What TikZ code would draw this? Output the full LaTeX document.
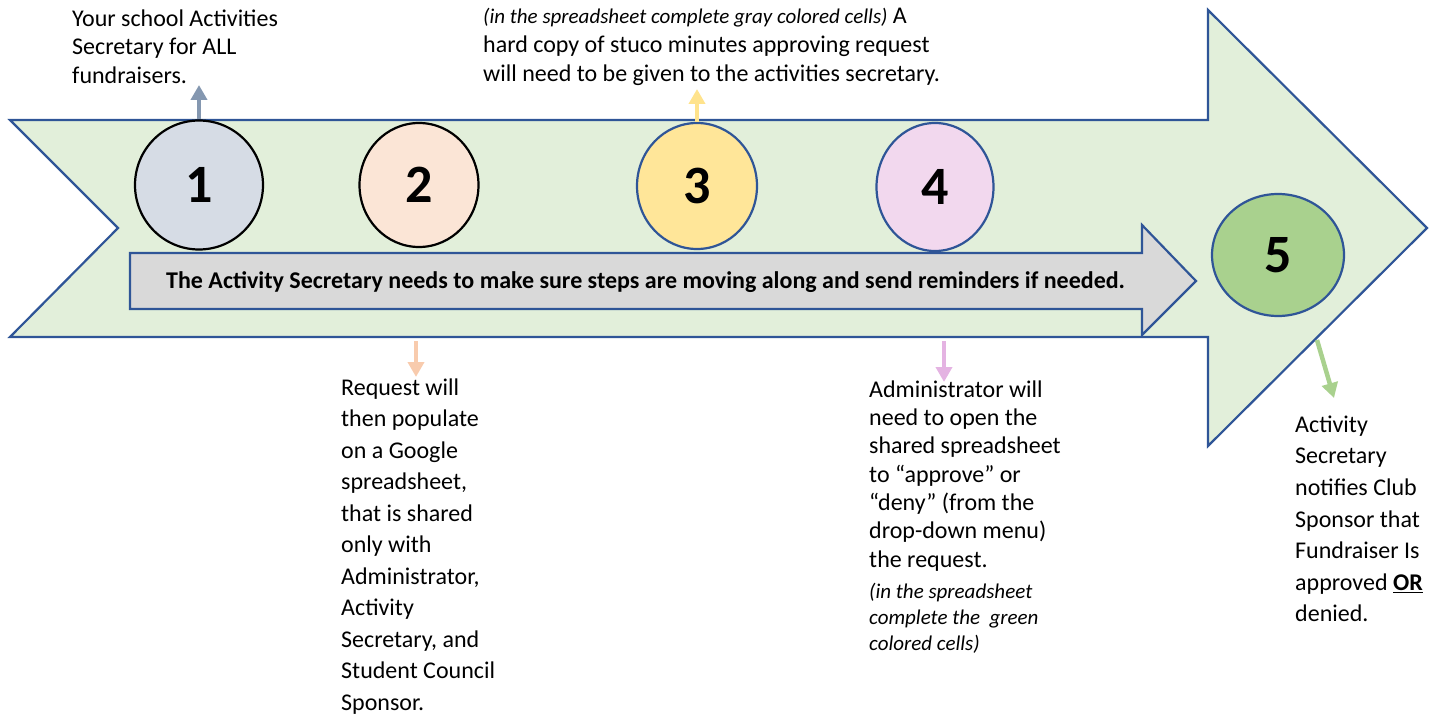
\documentclass[tikz,border=0pt]{standalone}
\usepackage{fontspec}
\setmainfont{Carlito}
\usetikzlibrary{arrows.meta,shapes.geometric}

\definecolor{bandfill}{HTML}{E2EFDA}
\definecolor{edgeblue}{HTML}{2F5597}
\definecolor{barfill}{HTML}{D9D9D9}
\definecolor{onefill}{HTML}{D6DCE5}
\definecolor{twofill}{HTML}{FBE5D6}
\definecolor{threefill}{HTML}{FFE699}
\definecolor{fourfill}{HTML}{F2D8EE}
\definecolor{fivefill}{HTML}{A9D18E}
\definecolor{onearrow}{HTML}{8497B0}
\definecolor{twoarrow}{HTML}{F8CBAD}
\definecolor{threearrow}{HTML}{FFE38C}
\definecolor{fourarrow}{HTML}{E4B3E2}
\definecolor{fivearrow}{HTML}{A9D18E}

\begin{document}
\begin{tikzpicture}[x=1pt,y=-1pt,
  stepnum/.style={ellipse, line width=2.2pt, inner sep=0pt,
    font=\fontsize{54}{54}\selectfont\bfseries},
  body/.style={anchor=north west, inner sep=0pt, align=left,
    font=\fontsize{24}{#1}\selectfont},
  notetext/.style={anchor=north west, inner sep=0pt, align=left,
    font=\fontsize{21}{26}\selectfont\itshape},
  pointer/.style={line width=4.5pt, -{Triangle[width=16pt,length=15pt]}},
  band/.style={fill=bandfill, draw=edgeblue, line width=2.2pt, line join=miter},
  bar/.style={fill=barfill, draw=edgeblue, line width=2.2pt, line join=miter},
]
\useasboundingbox (0,0) rectangle (1435,714);

% large process arrow with notched tail
\draw[band] (10,120) -- (1208,120) -- (1208,10) -- (1427,228) -- (1208,446)
  -- (1208,337) -- (10,337) -- (118,228) -- cycle;

% grey reminder arrow
\draw[bar] (130,253) -- (1142,253) -- (1142,225) -- (1196,281) -- (1142,335)
  -- (1142,309) -- (130,309) -- cycle;
\node[anchor=west, inner sep=0pt, font=\fontsize{24}{24}\selectfont\bfseries] (remind) at (166,282)
  {The Activity Secretary needs to make sure steps are moving along and send reminders if needed.};

% numbered steps
\node[stepnum, draw=black, fill=onefill, minimum width=128pt, minimum height=129pt] (c1) at (199,185) {1};
\node[stepnum, draw=black, fill=twofill, minimum width=119pt, minimum height=124pt] (c2) at (419,185) {2};
\node[stepnum, draw=edgeblue, fill=threefill, minimum width=120pt, minimum height=126pt] (c3) at (697,186) {3};
\node[stepnum, draw=edgeblue, fill=fourfill, minimum width=117pt, minimum height=128pt] (c4) at (935,187) {4};
\node[stepnum, draw=edgeblue, fill=fivefill, minimum width=132pt, minimum height=122pt] (c5) at (1278,255) {5};

% step descriptions
\node[body=28.7] (t1) at (72,6)
  {\rule{0pt}{20pt}Your school Activities\\Secretary for ALL\\fundraisers.};
\node[body=29] (t3) at (483,3)
  {\rule{0pt}{20pt}{\fontsize{21}{29}\selectfont\itshape (in the spreadsheet complete gray colored cells)} A\\
   hard copy of stuco minutes approving request\\
   will need to be given to the activities secretary.};
\node[body=31.5] (t2) at (341,375)
  {\rule{0pt}{20pt}Request will\\then populate\\on a Google\\spreadsheet,\\that is shared\\only with\\
   Administrator,\\Activity\\Secretary, and\\Student Council\\Sponsor.};
\node[body=28.3] (t4) at (869,377)
  {\rule{0pt}{20pt}Administrator will\\need to open the\\shared spreadsheet\\to “approve” or\\
   “deny” (from the\\drop-down menu)\\the request.};
\node[notetext] (t4note) at (869,581)
  {\rule{0pt}{17pt}(in the spreadsheet\\complete the~ green\\colored cells)};
\node[body=31.6] (t5) at (1295,412)
  {\rule{0pt}{20pt}Activity\\Secretary\\notifies Club\\Sponsor that\\Fundraiser Is\\
   approved \textbf{\underline{OR}}\\denied.};

% pointers from the steps to their descriptions
\coordinate (p1) at (199,85);
\coordinate (p3) at (697,89);
\coordinate (q2) at (416,341);
\coordinate (p2) at (416,377);
\coordinate (q4) at (944,341);
\coordinate (p4) at (944,382);
\coordinate (q5) at (1317,340);
\coordinate (p5) at (1334,398);
\draw[pointer, onearrow] (c1.north) -- (p1);
\draw[pointer, threearrow] (c3.north) -- (p3);
\draw[pointer, twoarrow] (q2) -- (p2);
\draw[pointer, fourarrow] (q4) -- (p4);
\draw[pointer, fivearrow] (q5) -- (p5);
\end{tikzpicture}
\end{document}
